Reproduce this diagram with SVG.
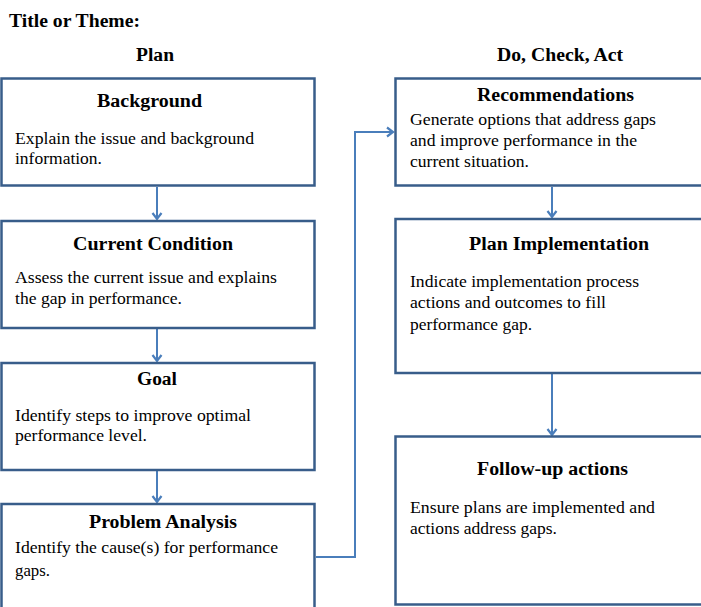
<svg xmlns="http://www.w3.org/2000/svg" width="701" height="607" viewBox="0 0 701 607">
<style>
text{font-family:"Liberation Serif","Times New Roman",serif;fill:#000;}
.t{font-size:18px;font-weight:bold;}
.h{font-size:18px;font-weight:bold;}
.b{font-size:17px;}
.box{fill:#fff;stroke:#385d8a;stroke-width:2.5;}
.con{fill:none;stroke:#4a7ebb;stroke-width:2;}
</style>
<defs>
<marker id="arr" markerWidth="12" markerHeight="12" refX="9" refY="6" orient="auto" markerUnits="userSpaceOnUse">
<path d="M3,1.5 L9,6 L3,10.5" fill="none" stroke="#4a7ebb" stroke-width="2.2"/>
</marker>
</defs>
<rect width="701" height="607" fill="#fff"/>
<g id="headers">
<text class="t" x="9" y="27" textLength="131" lengthAdjust="spacingAndGlyphs">Title or Theme:</text>
<text class="t" x="136" y="61" textLength="38" lengthAdjust="spacingAndGlyphs">Plan</text>
<text class="t" x="497" y="61" textLength="126" lengthAdjust="spacingAndGlyphs">Do, Check, Act</text>
</g>
<g id="connectors">
<line class="con" x1="157" y1="187" x2="157" y2="219" marker-end="url(#arr)"/>
<line class="con" x1="157" y1="329" x2="157" y2="361" marker-end="url(#arr)"/>
<line class="con" x1="157" y1="471" x2="157" y2="502" marker-end="url(#arr)"/>
<polyline class="con" points="316,557 355,557 355,132 393,132" marker-end="url(#arr)"/>
<line class="con" x1="552" y1="187" x2="552" y2="217" marker-end="url(#arr)"/>
<line class="con" x1="552" y1="374" x2="552" y2="435" marker-end="url(#arr)"/>
</g>
<g id="background">
<rect class="box" x="1.5" y="78.5" width="313" height="107"/>
<text class="h" x="97" y="107" textLength="105" lengthAdjust="spacingAndGlyphs">Background</text>
<text class="b" x="15" y="143.5" textLength="239" lengthAdjust="spacingAndGlyphs">Explain the issue and background</text>
<text class="b" x="15" y="163.5" textLength="87" lengthAdjust="spacingAndGlyphs">information.</text>
</g>
<g id="current-condition">
<rect class="box" x="1.5" y="221" width="313" height="107"/>
<text class="h" x="73" y="250" textLength="160" lengthAdjust="spacingAndGlyphs">Current Condition</text>
<text class="b" x="15" y="283" textLength="262" lengthAdjust="spacingAndGlyphs">Assess the current issue and explains</text>
<text class="b" x="15" y="304" textLength="167" lengthAdjust="spacingAndGlyphs">the gap  in performance.</text>
</g>
<g id="goal">
<rect class="box" x="1.5" y="363" width="313" height="107"/>
<text class="h" x="137" y="385" textLength="40" lengthAdjust="spacingAndGlyphs">Goal</text>
<text class="b" x="15" y="421" textLength="236" lengthAdjust="spacingAndGlyphs">Identify steps to improve optimal</text>
<text class="b" x="15" y="441" textLength="132" lengthAdjust="spacingAndGlyphs">performance level.</text>
</g>
<g id="problem-analysis">
<rect class="box" x="1.5" y="504" width="313" height="120"/>
<text class="h" x="89" y="528" textLength="148" lengthAdjust="spacingAndGlyphs">Problem Analysis</text>
<text class="b" x="15" y="553" textLength="263" lengthAdjust="spacingAndGlyphs">Identify the cause(s)  for performance</text>
<text class="b" x="15" y="576" textLength="35" lengthAdjust="spacingAndGlyphs">gaps.</text>
</g>
<g id="recommendations">
<rect class="box" x="395.5" y="78.5" width="320" height="107"/>
<text class="h" x="477" y="101" textLength="157" lengthAdjust="spacingAndGlyphs">Recommendations</text>
<text class="b" x="410" y="125" textLength="246" lengthAdjust="spacingAndGlyphs">Generate options that address gaps</text>
<text class="b" x="410" y="146" textLength="227" lengthAdjust="spacingAndGlyphs">and improve performance in the</text>
<text class="b" x="410" y="167" textLength="119" lengthAdjust="spacingAndGlyphs">current situation.</text>
</g>
<g id="plan-implementation">
<rect class="box" x="395.5" y="219" width="320" height="154"/>
<text class="h" x="469" y="250" textLength="180" lengthAdjust="spacingAndGlyphs">Plan Implementation</text>
<text class="b" x="410" y="287" textLength="229" lengthAdjust="spacingAndGlyphs">Indicate implementation  process</text>
<text class="b" x="410" y="308" textLength="196" lengthAdjust="spacingAndGlyphs">actions and outcomes to fill</text>
<text class="b" x="410" y="330" textLength="122" lengthAdjust="spacingAndGlyphs">performance gap.</text>
</g>
<g id="follow-up">
<rect class="box" x="395.5" y="436.5" width="320" height="168"/>
<text class="h" x="477" y="475" textLength="151" lengthAdjust="spacingAndGlyphs">Follow-up actions</text>
<text class="b" x="410" y="513" textLength="245" lengthAdjust="spacingAndGlyphs">Ensure plans are implemented  and</text>
<text class="b" x="410" y="534" textLength="147" lengthAdjust="spacingAndGlyphs">actions address gaps.</text>
</g>
</svg>
